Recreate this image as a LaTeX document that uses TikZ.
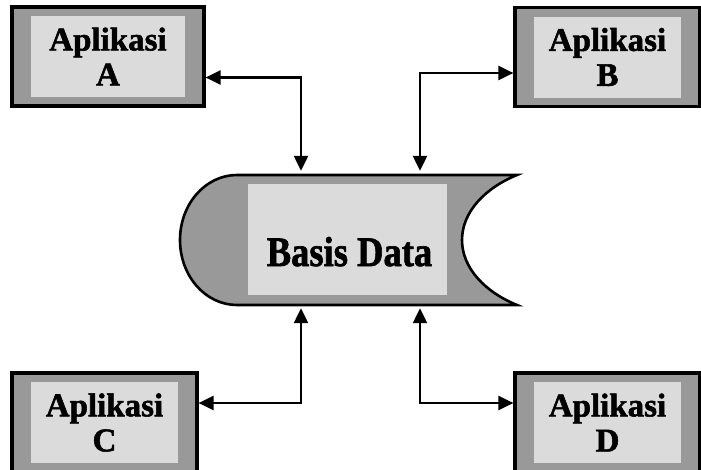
\documentclass[tikz,border=0pt]{standalone}
\usepackage{fontspec}
\setmainfont{Liberation Serif}[BoldFeatures={FakeBold=1.6}]
\usetikzlibrary{arrows.meta}
\definecolor{bandgray}{gray}{0.6}
\definecolor{panegray}{gray}{0.86}
\tikzset{
  appbox/.style={draw, line width=3.2pt, fill=bandgray, inner sep=0pt,
    minimum height=99pt, align=center,
    font=\fontsize{33}{35}\selectfont\bfseries,
    path picture={\fill[panegray]
      ([xshift=19pt,yshift=-9pt]path picture bounding box.north west) rectangle
      ([xshift=-19pt,yshift=9pt]path picture bounding box.south east);}},
  link/.style={line width=2.3pt,
    {Triangle[length=15pt,width=14pt]}-{Triangle[length=15pt,width=14pt]}},
}
\begin{document}
\begin{tikzpicture}[x=1pt,y=-1pt]
\useasboundingbox (0,0) rectangle (701,469);
\fill[white] (0,0) rectangle (701,469);

% the four applications
\node[appbox, minimum width=192pt] (appA) at (108,56.5)  {Aplikasi\\A};
\node[appbox, minimum width=185pt] (appB) at (607.5,57) {Aplikasi\\B};
\node[appbox, minimum width=185pt] (appC) at (104.5,422.5) {Aplikasi\\C};
\node[appbox, minimum width=185pt] (appD) at (607.5,422.5) {Aplikasi\\D};

% the database (stored data symbol)
\path[draw, line width=2.6pt, fill=bandgray]
  (237,175) -- (517,175)
  .. controls (485,188) and (462,212) .. (462,240)
  .. controls (462,268) and (485,292) .. (517,305)
  -- (237,305)
  .. controls (205.5,305) and (180,276) .. (180,240)
  .. controls (180,204) and (205.5,175) .. (237,175) -- cycle;
\fill[panegray] (248,184) rectangle (447,295);
\node[minimum width=337pt, minimum height=130pt, inner sep=0pt] (db) at (348.5,240) {};
\node[font=\fontsize{42}{44}\selectfont\bfseries, anchor=base, inner sep=0pt]
  (dbtext) at (349.5,266) {\scalebox{0.87}[1]{Basis Data}};

% end points on the database
\coordinate (dbA) at ([xshift=-47.5pt,yshift=4pt]db.north);
\coordinate (dbB) at ([xshift=71.5pt,yshift=4pt]db.north);
\coordinate (dbC) at ([xshift=-47.5pt,yshift=-3pt]db.south);
\coordinate (dbD) at ([xshift=71.5pt,yshift=-3pt]db.south);

% connectors
\draw[link] ([yshift=-21pt]appA.east) -| (dbA);
\draw[link] ([yshift=-16pt]appB.west) -| (dbB);
\draw[link] ([yshift=19.5pt]appC.east) -| (dbC);
\draw[link] ([yshift=19.5pt]appD.west) -| (dbD);
\end{tikzpicture}
\end{document}
